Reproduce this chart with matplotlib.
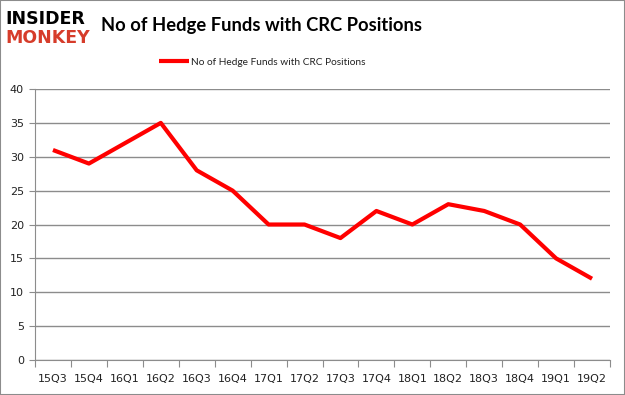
import matplotlib.pyplot as plt
from matplotlib.patches import Rectangle

# quarters and hedge fund counts
quarters = ['15Q3', '15Q4', '16Q1', '16Q2', '16Q3', '16Q4', '17Q1', '17Q2',
            '17Q3', '17Q4', '18Q1', '18Q2', '18Q3', '18Q4', '19Q1', '19Q2']
num_funds = [31, 29, 32, 35, 28, 25, 20, 20, 18, 22, 20, 23, 22, 20, 15, 12]
y_ticks = [0, 5, 10, 15, 20, 25, 30, 35, 40]

series_name = 'No of Hedge Funds with CRC Positions'

fig = plt.figure(figsize=(6.25, 3.95), dpi=100)
ax = fig.add_axes([0.056, 0.0886, 0.92, 0.686])

x = list(range(len(quarters)))
ax.plot(x, num_funds, color='#ff0000', linewidth=3, solid_capstyle='butt',
        label=series_name)

ax.set_xlim(-0.5, len(quarters) - 0.5)
ax.set_ylim(0, 40)
ax.set_yticks(y_ticks)
ax.yaxis.grid(True, color='#8c8c8c', linewidth=1)
ax.set_axisbelow(True)

# category labels sit between the tick marks, like in Excel
ax.set_xticks([i - 0.5 for i in range(len(quarters) + 1)])
ax.set_xticklabels([])
ax.set_xticks(x, minor=True)
ax.set_xticklabels(quarters, minor=True)
ax.tick_params(axis='x', which='minor', length=0, pad=10, labelsize=8, colors='#222222')
ax.tick_params(axis='x', which='major', length=5, color='#8c8c8c', direction='out')
ax.tick_params(axis='y', length=4, color='#8c8c8c', labelsize=8, colors='#222222', pad=4)

for side in ['top', 'right']:
    ax.spines[side].set_visible(False)
ax.spines['left'].set_color('#8c8c8c')
ax.spines['bottom'].set_color('#8c8c8c')

fig.text(0.419, 0.935, series_name, ha='center', va='center', fontsize=13.2,
         fontweight='bold', family='Lato', color='black')

leg = fig.legend(loc='center', bbox_to_anchor=(0.419, 0.843), frameon=False,
                 prop={'family': 'Lato', 'size': 7.3}, handlelength=3.0,
                 handletextpad=0.15)
for t in leg.get_texts():
    t.set_color('#222222')

# logo
fig.text(0.008, 0.952, 'INSIDER', ha='left', va='center', fontsize=12.5,
         fontweight='heavy', family='DejaVu Sans', color='black')
fig.text(0.008, 0.903, 'MONKEY', ha='left', va='center', fontsize=12.5,
         fontweight='heavy', family='DejaVu Sans', color='#d63c2a')

fig.patches.append(Rectangle((0, 0), 1, 1, transform=fig.transFigure, fill=False,
                             edgecolor='#8c8c8c', linewidth=1.5))

fig.savefig('out.png', dpi=100)
